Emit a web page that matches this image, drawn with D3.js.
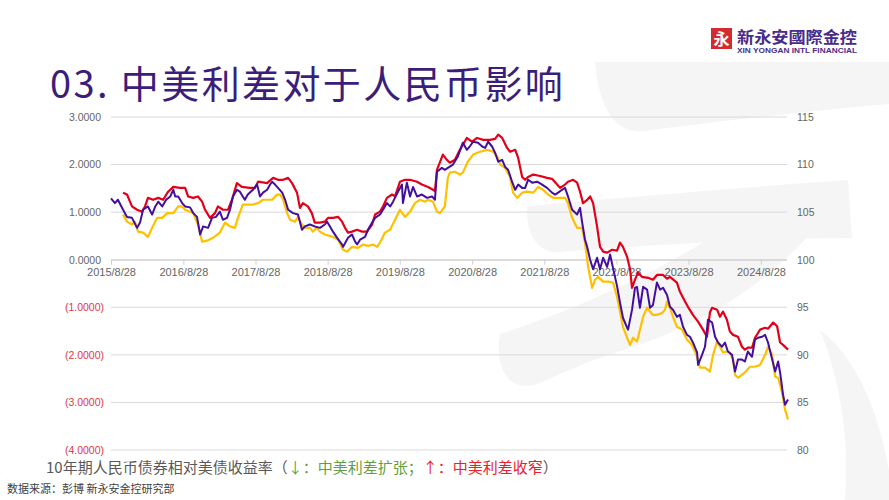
<!DOCTYPE html>
<html>
<head>
<meta charset="utf-8">
<script src="https://cdn.jsdelivr.net/npm/d3@7/dist/d3.min.js"></script>
<style>
  html, body { margin: 0; padding: 0; background: #ffffff; }
  svg { display: block; }
</style>
</head>
<body>
<svg id="chart" width="889" height="500"></svg>
<script>
// ---------------- DATA ----------------
const titleText = "03. 中美利差对于人民币影响";
const xTickDates = ["2015-08-28","2016-08-28","2017-08-28","2018-08-28","2019-08-28","2020-08-28","2021-08-28","2022-08-28","2023-08-28","2024-08-28"];
const leftTicks = [-4, -3, -2, -1, 0, 1, 2, 3];
const rightTicks = [80, 85, 90, 95, 100, 105, 110, 115];

// Purple series (left axis units)
const purpleSeries = [
["2015-08-28",1.29],["2015-09-17",1.19],["2015-10-02",1.26],["2015-10-28",1.05],["2015-11-17",0.90],["2015-12-12",0.88],
["2016-01-07",0.67],["2016-01-22",0.78],["2016-02-06",1.05],["2016-03-02",1.12],["2016-03-23",0.95],["2016-04-08",1.12],
["2016-04-23",1.22],["2016-05-13",1.12],["2016-06-02",1.26],["2016-06-23",1.33],["2016-07-08",1.47],["2016-07-18",1.33],
["2016-08-02",1.33],["2016-08-22",1.19],["2016-09-06",1.12],["2016-10-01",1.10],["2016-10-17",0.98],["2016-11-05",0.90],
["2016-11-21",0.53],["2016-12-06",0.70],["2016-12-31",0.67],["2017-01-20",0.88],["2017-02-09",0.90],["2017-03-01",1.01],
["2017-03-16",0.84],["2017-04-06",0.88],["2017-04-21",1.05],["2017-05-06",1.33],["2017-05-26",1.47],["2017-06-10",1.43],
["2017-07-05",1.26],["2017-07-20",1.37],["2017-08-15",1.47],["2017-09-05",1.58],["2017-09-20",1.33],["2017-10-05",1.41],
["2017-10-26",1.47],["2017-11-10",1.58],["2017-11-20",1.64],["2017-12-05",1.58],["2017-12-20",1.51],["2018-01-10",1.41],
["2018-01-25",1.26],["2018-02-09",1.05],["2018-03-06",0.98],["2018-03-31",0.95],["2018-04-20",0.63],["2018-05-05",0.70],
["2018-05-30",0.74],["2018-06-24",0.70],["2018-07-20",0.67],["2018-08-14",0.74],["2018-08-25",0.80],["2018-09-09",0.70],
["2018-09-24",0.59],["2018-10-15",0.46],["2018-11-09",0.32],["2018-11-14",0.27],["2018-12-09",0.46],["2018-12-29",0.53],
["2019-01-14",0.38],["2019-01-24",0.32],["2019-02-08",0.42],["2019-03-05",0.48],["2019-03-20",0.63],["2019-04-10",0.78],
["2019-04-25",0.88],["2019-05-20",0.95],["2019-06-04",1.05],["2019-06-24",1.19],["2019-07-10",1.12],["2019-07-25",1.22],
["2019-08-19",1.43],["2019-09-08",1.58],["2019-09-13",1.19],["2019-10-03",1.62],["2019-10-19",1.33],["2019-11-03",1.53],
["2019-11-23",1.33],["2019-12-18",1.37],["2020-01-13",1.30],["2020-02-07",1.33],["2020-02-22",1.26],["2020-03-03",1.85],
["2020-03-28",1.93],["2020-04-12",1.89],["2020-04-27",1.93],["2020-05-23",2.00],["2020-06-17",2.17],["2020-07-12",2.46],
["2020-08-01",2.31],["2020-08-16",2.38],["2020-09-02",2.48],["2020-09-27",2.46],["2020-10-18",2.38],["2020-11-02",2.35],
["2020-11-17",2.48],["2020-12-07",2.38],["2020-12-22",2.25],["2021-01-07",2.06],["2021-01-27",2.10],["2021-02-11",1.95],
["2021-02-26",1.89],["2021-03-18",1.64],["2021-04-03",1.47],["2021-04-18",1.58],["2021-05-08",1.51],["2021-05-23",1.51],
["2021-06-07",1.68],["2021-06-28",1.62],["2021-07-23",1.64],["2021-08-17",1.58],["2021-09-11",1.51],["2021-10-06",1.41],
["2021-10-22",1.37],["2021-11-06",1.41],["2021-11-26",1.47],["2021-12-11",1.51],["2021-12-26",1.33],["2022-01-16",1.05],
["2022-02-10",0.95],["2022-02-25",1.09],["2022-03-07",0.80],["2022-03-22",0.42],["2022-04-02",0.27],["2022-04-17",0.00],
["2022-05-02",-0.20],["2022-05-22",0.04],["2022-06-06",-0.20],["2022-06-22",0.04],["2022-07-12",-0.15],["2022-07-27",0.11],
["2022-08-11",-0.18],["2022-08-31",-0.55],["2022-09-15",-0.90],["2022-09-30",-1.22],["2022-10-21",-1.43],["2022-10-26",-1.47],
["2022-11-15",-1.05],["2022-11-30",-0.59],["2022-12-10",-0.57],["2022-12-25",-1.01],["2023-01-10",-0.57],["2023-01-30",-0.63],
["2023-02-14",-1.01],["2023-03-01",-0.95],["2023-03-21",-0.48],["2023-04-06",-0.63],["2023-04-21",-0.59],["2023-05-11",-0.74],
["2023-05-26",-0.99],["2023-06-10",-1.05],["2023-06-30",-1.20],["2023-07-15",-1.16],["2023-07-31",-1.41],["2023-08-20",-1.58],
["2023-09-04",-1.62],["2023-09-19",-1.74],["2023-10-10",-1.95],["2023-10-15",-2.21],["2023-11-04",-2.00],["2023-11-19",-1.83],
["2023-11-29",-1.47],["2023-12-04",-1.26],["2023-12-25",-1.32],["2024-01-09",-1.62],["2024-01-24",-1.74],["2024-02-13",-1.83],
["2024-02-28",-1.74],["2024-03-14",-1.93],["2024-04-04",-2.00],["2024-04-19",-2.35],["2024-05-04",-2.10],["2024-05-24",-2.10],
["2024-06-08",-2.14],["2024-06-23",-1.93],["2024-07-14",-2.04],["2024-07-29",-1.68],["2024-08-13",-1.64],["2024-09-03",-1.62],
["2024-09-18",-1.58],["2024-10-03",-1.74],["2024-10-24",-2.10],["2024-11-08",-2.35],["2024-11-23",-2.14],["2024-12-03",-2.37],
["2024-12-18",-2.84],["2024-12-28",-3.05],["2025-01-12",-2.94]
];

// Red series (left axis units)
const redSeries = [
["2015-10-28",1.41],["2015-11-17",1.37],["2015-12-12",1.12],["2016-01-07",1.05],["2016-02-01",1.01],["2016-02-16",1.12],
["2016-03-02",1.30],["2016-03-28",1.26],["2016-04-23",1.30],["2016-05-18",1.26],["2016-06-12",1.43],["2016-07-08",1.53],
["2016-08-12",1.51],["2016-09-06",1.51],["2016-09-21",1.33],["2016-10-17",1.30],["2016-11-10",1.33],["2016-12-01",1.22],
["2016-12-16",1.05],["2017-01-10",0.88],["2017-02-04",0.98],["2017-02-19",1.12],["2017-03-16",1.05],["2017-04-11",1.05],
["2017-05-01",1.26],["2017-05-26",1.61],["2017-06-20",1.53],["2017-07-30",1.51],["2017-08-25",1.51],["2017-09-10",1.64],
["2017-10-26",1.61],["2017-11-25",1.72],["2017-12-20",1.68],["2018-01-15",1.68],["2018-02-09",1.72],["2018-03-01",1.61],
["2018-03-26",1.41],["2018-04-10",1.09],["2018-04-25",1.19],["2018-05-20",1.12],["2018-06-09",0.98],["2018-06-24",0.78],
["2018-07-20",0.78],["2018-08-14",0.80],["2018-08-30",0.88],["2018-09-24",0.88],["2018-10-20",0.90],["2018-11-09",0.80],
["2018-11-24",0.67],["2018-12-09",0.57],["2018-12-29",0.59],["2019-01-24",0.63],["2019-02-18",0.59],["2019-03-15",0.59],
["2019-04-10",0.74],["2019-04-25",0.95],["2019-05-20",1.01],["2019-06-04",1.12],["2019-06-24",1.30],["2019-07-20",1.37],
["2019-08-04",1.33],["2019-08-29",1.64],["2019-09-23",1.68],["2019-10-19",1.68],["2019-11-23",1.64],["2019-12-18",1.58],
["2020-01-18",1.53],["2020-02-12",1.47],["2020-02-22",1.44],["2020-03-03",1.89],["2020-04-02",2.21],["2020-04-22",2.10],
["2020-05-07",2.04],["2020-06-02",2.10],["2020-06-27",2.31],["2020-08-01",2.56],["2020-08-28",2.48],["2020-09-22",2.56],
["2020-10-23",2.52],["2020-11-27",2.52],["2020-12-22",2.54],["2021-01-07",2.63],["2021-01-27",2.56],["2021-02-21",2.35],
["2021-03-08",2.27],["2021-04-03",2.31],["2021-04-18",2.14],["2021-05-08",1.74],["2021-05-23",1.68],["2021-06-07",1.74],
["2021-07-03",1.79],["2021-08-07",1.76],["2021-09-11",1.72],["2021-10-06",1.70],["2021-11-01",1.58],["2021-11-16",1.51],
["2021-12-11",1.58],["2021-12-26",1.64],["2022-01-21",1.68],["2022-02-10",1.62],["2022-02-25",1.43],["2022-03-12",1.19],
["2022-04-02",1.26],["2022-04-17",1.33],["2022-05-02",1.19],["2022-05-22",0.70],["2022-06-06",0.27],["2022-06-22",0.17],
["2022-07-12",0.15],["2022-08-06",0.21],["2022-08-31",0.19],["2022-09-15",0.36],["2022-09-30",0.27],["2022-10-21",0.06],
["2022-11-05",-0.20],["2022-11-15",-0.59],["2022-11-30",-0.42],["2022-12-15",-0.27],["2023-01-04",-0.36],["2023-02-04",-0.38],
["2023-03-01",-0.42],["2023-03-21",-0.32],["2023-04-21",-0.32],["2023-05-11",-0.40],["2023-05-26",-0.36],["2023-06-30",-0.48],
["2023-07-15",-0.67],["2023-08-10",-0.88],["2023-08-25",-0.99],["2023-09-19",-1.16],["2023-10-15",-1.30],["2023-11-09",-1.47],
["2023-11-29",-1.62],["2023-12-14",-1.11],["2023-12-25",-1.01],["2024-01-19",-1.05],["2024-02-03",-1.20],["2024-02-18",-1.09],
["2024-03-09",-1.26],["2024-03-24",-1.51],["2024-04-09",-1.58],["2024-05-04",-1.62],["2024-05-24",-1.83],["2024-06-08",-1.89],
["2024-06-23",-1.85],["2024-07-14",-1.85],["2024-07-29",-1.64],["2024-08-24",-1.47],["2024-09-18",-1.43],["2024-10-03",-1.45],
["2024-10-29",-1.32],["2024-11-18",-1.40],["2024-12-03",-1.74],["2024-12-18",-1.79],["2025-01-12",-1.89]
];

// Yellow series (left axis units)
const yellowSeries = [
["2015-10-28",0.95],["2015-11-17",0.80],["2015-12-12",0.74],["2015-12-27",0.80],["2016-01-12",0.59],["2016-02-06",0.57],
["2016-03-02",0.48],["2016-03-23",0.67],["2016-04-18",0.88],["2016-05-13",0.88],["2016-06-07",0.98],["2016-07-08",0.98],
["2016-08-02",1.12],["2016-08-22",1.12],["2016-09-06",1.05],["2016-10-17",0.98],["2016-11-10",0.74],["2016-12-01",0.38],
["2016-12-26",0.40],["2017-01-25",0.46],["2017-03-01",0.57],["2017-03-27",0.78],["2017-04-21",0.70],["2017-05-16",0.67],
["2017-05-31",0.88],["2017-06-25",1.16],["2017-08-15",1.16],["2017-09-10",1.19],["2017-10-05",1.26],["2017-11-20",1.26],
["2017-12-15",1.37],["2017-12-30",1.37],["2018-01-15",1.26],["2018-02-04",0.98],["2018-02-19",0.84],["2018-03-16",0.80],
["2018-03-31",0.90],["2018-04-20",0.74],["2018-05-05",0.67],["2018-05-30",0.67],["2018-06-14",0.59],["2018-07-04",0.67],
["2018-07-20",0.59],["2018-08-14",0.53],["2018-09-24",0.48],["2018-10-20",0.42],["2018-11-14",0.21],["2018-12-04",0.17],
["2018-12-29",0.27],["2019-01-29",0.25],["2019-02-23",0.32],["2019-03-20",0.29],["2019-04-15",0.32],["2019-05-05",0.27],
["2019-05-20",0.36],["2019-06-14",0.57],["2019-07-10",0.63],["2019-08-04",0.84],["2019-08-29",1.05],["2019-09-23",0.90],
["2019-10-19",1.01],["2019-11-13",1.19],["2019-12-08",1.26],["2020-01-03",1.22],["2020-01-18",1.26],["2020-02-12",1.22],
["2020-03-03",1.01],["2020-03-18",0.98],["2020-04-12",1.12],["2020-04-27",1.72],["2020-05-07",1.83],["2020-06-02",1.85],
["2020-06-27",1.79],["2020-07-12",1.83],["2020-08-06",2.06],["2020-09-02",2.21],["2020-10-07",2.27],["2020-11-12",2.31],
["2020-12-12",2.27],["2021-01-02",2.17],["2021-01-17",2.00],["2021-02-11",1.93],["2021-03-08",1.74],["2021-03-23",1.41],
["2021-04-13",1.30],["2021-05-08",1.41],["2021-06-02",1.43],["2021-07-03",1.41],["2021-07-28",1.53],["2021-08-22",1.47],
["2021-09-16",1.37],["2021-10-12",1.30],["2021-11-16",1.30],["2021-12-11",1.30],["2021-12-26",1.19],["2022-01-16",0.88],
["2022-02-10",0.67],["2022-03-07",0.67],["2022-03-22",0.36],["2022-04-07",-0.15],["2022-04-27",-0.59],["2022-05-12",-0.42],
["2022-05-27",-0.36],["2022-06-22",-0.46],["2022-07-17",-0.46],["2022-08-11",-0.48],["2022-08-31",-0.78],["2022-09-15",-1.09],
["2022-09-30",-1.41],["2022-10-21",-1.64],["2022-11-05",-1.79],["2022-11-20",-1.64],["2022-12-10",-1.72],["2022-12-25",-1.47],
["2023-01-10",-1.20],["2023-01-30",-1.01],["2023-02-14",-1.09],["2023-03-01",-1.16],["2023-03-21",-1.16],["2023-04-16",-1.12],
["2023-05-01",-1.05],["2023-05-11",-0.88],["2023-05-26",-1.01],["2023-06-10",-1.20],["2023-06-30",-1.41],["2023-07-26",-1.47],
["2023-08-20",-1.68],["2023-09-14",-1.79],["2023-10-10",-2.04],["2023-10-25",-2.27],["2023-11-19",-2.27],["2023-12-14",-2.35],
["2023-12-30",-2.00],["2024-01-19",-1.72],["2024-02-03",-1.83],["2024-02-18",-1.95],["2024-03-09",-1.93],["2024-03-24",-1.95],
["2024-04-09",-2.10],["2024-04-19",-2.42],["2024-05-04",-2.48],["2024-05-24",-2.42],["2024-06-08",-2.37],["2024-07-04",-2.25],
["2024-07-29",-2.25],["2024-08-24",-2.21],["2024-09-18",-2.00],["2024-10-03",-1.83],["2024-10-24",-2.00],["2024-11-08",-2.46],
["2024-11-23",-2.48],["2024-12-13",-2.79],["2024-12-28",-3.15],["2025-01-12",-3.36]
];

const legendParts = [
  {text: "10年期人民币债券相对美债收益率（", color: "#595959"},
  {text: "↓：中美利差扩张", color: "#62A03F"},
  {text: "；", color: "#62A03F"},
  {text: "↑：中美利差收窄", color: "#E8212B"},
  {text: "）", color: "#595959"}
];
const sourceText = "数据来源：彭博 新永安金控研究部";

// ---------------- DRAW ----------------
const svg = d3.select("#chart");
const parse = d3.timeParse("%Y-%m-%d");
const CJK = "'Noto Sans CJK SC','Noto Sans CJK TC',sans-serif";
const NUM = "'Liberation Sans',Arial,sans-serif";

// background watermark shapes
const wm = svg.append("g").attr("fill", "#f5f5f5");
wm.append("path").attr("d", "M595,62 L889,62 L889,104 C820,110 720,121 645,131 C612,136 598,100 595,62 Z");
wm.append("path").attr("d", "M527,206 C640,196 760,186 848,180 L852,238 C760,238 640,246 560,252 C536,254 526,232 527,206 Z");
wm.append("path").attr("d", "M848,182 C800,262 724,318 624,350 C584,362 556,376 540,383 C506,396 494,362 500,334 C600,302 700,252 770,196 Z");
wm.append("path").attr("d", "M820,330 C860,360 880,420 889,470 L889,500 L845,500 C850,440 840,380 820,330 Z");

const x = d3.scaleTime()
  .domain([parse("2015-08-28"), parse("2025-01-12")])
  .range([111, 788]);
const yL = d3.scaleLinear().domain([-4, 3]).range([450, 117]);
const yR = d3.scaleLinear().domain([80, 115]).range([450, 117]);

// gridlines
svg.append("g").selectAll("line").data(leftTicks).join("line")
  .attr("x1", 111).attr("x2", 787)
  .attr("y1", d => yL(d)).attr("y2", d => yL(d))
  .attr("stroke", "#d9d9d9").attr("stroke-width", 1);

// left axis
const leftAxis = svg.append("g").attr("transform", "translate(101,0)")
  .call(d3.axisLeft(yL).tickValues(leftTicks).tickSize(0).tickPadding(0)
    .tickFormat(d => d < 0 ? "(" + Math.abs(d).toFixed(4) + ")" : d.toFixed(4)));
leftAxis.select(".domain").remove();
leftAxis.selectAll("text")
  .attr("font-family", NUM).attr("font-size", 10.5)
  .attr("fill", d => d < 0 ? "#E0393E" : "#666666")
  .attr("x", d => d < 0 ? 3 : 0);

// right axis
const rightAxis = svg.append("g").attr("transform", "translate(797,0)")
  .call(d3.axisRight(yR).tickValues(rightTicks).tickSize(0).tickPadding(0));
rightAxis.select(".domain").remove();
rightAxis.selectAll("text").attr("font-family", NUM).attr("font-size", 10.5).attr("fill", "#666666");

// x axis on zero line
const fmt = d3.timeFormat("%Y/%-m/%-d");
const xAxis = svg.append("g").attr("transform", `translate(0,${yL(0)})`)
  .call(d3.axisBottom(x).tickValues(xTickDates.map(parse)).tickSize(5).tickPadding(3).tickFormat(fmt));
xAxis.select(".domain").attr("stroke", "#cfcfcf").attr("d", `M111,0.5H787`);
xAxis.selectAll(".tick line").attr("stroke", "#cfcfcf");
xAxis.selectAll("text").attr("font-family", NUM).attr("font-size", 11).attr("fill", "#666666");

// lines
const line = d3.line().x(d => x(parse(d[0]))).y(d => yL(d[1]));
const seriesDefs = [
  {data: yellowSeries, color: "#FFC000", w: 2.2},
  {data: redSeries, color: "#E2001A", w: 2.2},
  {data: purpleSeries, color: "#430F9E", w: 2.0}
];
svg.append("g").selectAll("path").data(seriesDefs).join("path")
  .attr("d", d => line(d.data))
  .attr("fill", "none")
  .attr("stroke", d => d.color)
  .attr("stroke-width", d => d.w)
  .attr("stroke-linejoin", "round");

// title
svg.append("text").attr("x", 50).attr("y", 98)
  .attr("font-family", CJK).attr("font-size", 38).attr("letter-spacing", 2.4)
  .attr("fill", "#3B1E7A").text(titleText);

// logo
const logo = svg.append("g");
logo.append("rect").attr("x", 711).attr("y", 28).attr("width", 21).attr("height", 21).attr("fill", "#D42B30");
logo.append("text").attr("x", 721.5).attr("y", 45).attr("text-anchor", "middle")
  .attr("font-family", CJK).attr("font-weight", 700).attr("font-size", 16).attr("fill", "#ffffff").text("永");
logo.append("text").attr("x", 737).attr("y", 42.5)
  .attr("font-family", "'Noto Sans CJK TC','Noto Sans CJK SC',sans-serif").attr("font-weight", 700)
  .attr("font-size", 16).attr("textLength", 120).attr("lengthAdjust", "spacingAndGlyphs")
  .attr("fill", "#4A2B8A").text("新永安國際金控");
logo.append("text").attr("x", 737).attr("y", 52.5)
  .attr("font-family", NUM).attr("font-weight", 700).attr("font-size", 6.5)
  .attr("textLength", 120).attr("lengthAdjust", "spacingAndGlyphs")
  .attr("fill", "#4A2B8A").text("XIN YONGAN INTL FINANCIAL");

// legend note
const leg = svg.append("text").attr("x", 46).attr("y", 473)
  .attr("font-family", CJK).attr("font-size", 15);
leg.selectAll("tspan").data(legendParts).join("tspan")
  .attr("fill", d => d.color).text(d => d.text);

// source
svg.append("text").attr("x", 7).attr("y", 493)
  .attr("font-family", CJK).attr("font-size", 11).attr("fill", "#404040").text(sourceText);
</script>
</body>
</html>
